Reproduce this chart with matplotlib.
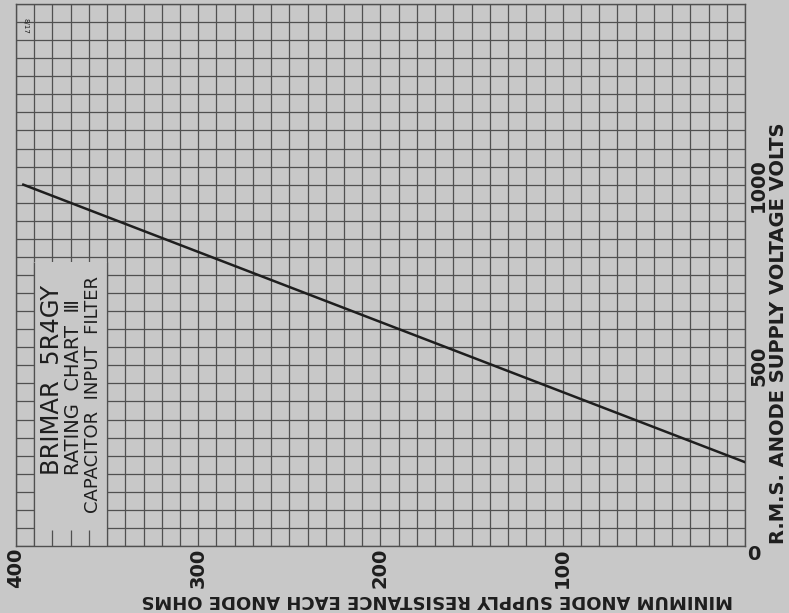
import numpy as np
import matplotlib.pyplot as plt
from matplotlib.patches import Rectangle
from matplotlib.ticker import MultipleLocator

# ------------------------------------------------------------
# data (rating chart III, 5R4GY)
# ------------------------------------------------------------
resistance = [0, 396]          # ohms
voltage = [232, 1000]          # r.m.s. volts

x_ticks = [400, 300, 200, 100, 0]
y_ticks = [500, 1000]

BG = "#c8c8c8"
GRID = "#505050"
INK = "#1e1e1e"

fig = plt.figure(figsize=(7.89, 6.13), dpi=100, facecolor=BG)
ax = fig.add_axes([0.0203, 0.1093, 0.9239, 0.8842], facecolor=BG)

ax.set_xlim(400, 0)
ax.set_ylim(0, 1500)

ax.xaxis.set_major_locator(MultipleLocator(100))
ax.xaxis.set_minor_locator(MultipleLocator(10))
ax.yaxis.set_major_locator(MultipleLocator(500))
ax.yaxis.set_minor_locator(MultipleLocator(50))
ax.grid(which="both", color=GRID, lw=0.9)
ax.set_axisbelow(True)
ax.tick_params(which="both", length=0)

ax.set_xticks(x_ticks)
ax.set_xticklabels([str(v) for v in x_ticks[:-1]] + [""], rotation=90,
                   fontsize=14, fontweight="bold", color=INK, va="top")
ax.yaxis.tick_right()
ax.set_yticks(y_ticks)
ax.set_yticklabels([str(v) for v in y_ticks], rotation=90, fontsize=14,
                   fontweight="bold", color=INK, va="center")
ax.tick_params(axis="x", pad=1)
ax.tick_params(axis="y", pad=3)

for s in ax.spines.values():
    s.set_color(GRID)
    s.set_linewidth(1.0)

# the corner zero
fig.text(754 / 789, 1 - 555 / 613, "0", fontsize=14, fontweight="bold", color=INK,
         ha="center", va="center")

# axis titles
fig.text(437 / 789, 1 - 600 / 613, "MINIMUM ANODE SUPPLY RESISTANCE EACH ANODE OHMS",
         rotation=180, fontsize=13, fontweight="bold", color=INK, ha="center", va="center")
fig.text(778 / 789, 1 - 333 / 613, "R.M.S. ANODE SUPPLY VOLTAGE VOLTS",
         rotation=90, fontsize=14, fontweight="bold", color=INK, ha="center", va="center")

# title panel
ax.add_patch(Rectangle((350, 0), 40, 785, facecolor=BG, edgecolor="none", zorder=1))
ax.vlines([380, 370, 360], 0, 45, color=GRID, lw=0.9, zorder=1.2)
ax.vlines([390, 350], 0, 785, color=GRID, lw=0.9, zorder=1.2)

ax.text(380.5, 459, "BRIMAR  5R4GY", rotation=90, fontsize=17.5, color=INK,
        ha="center", va="center", zorder=3)
ax.text(368.5, 440, "RATING  CHART  \u2162", rotation=90, fontsize=14, color=INK,
        ha="center", va="center", zorder=3)
ax.text(358, 418, "CAPACITOR  INPUT  FILTER", rotation=90, fontsize=13, color=INK,
        ha="center", va="center", zorder=3)
ax.text(395, 1440, "8/17", rotation=270, fontsize=5, color=INK,
        ha="center", va="center", zorder=3)

# rating line
ax.plot(resistance, voltage, color=INK, lw=1.8, zorder=4)

fig.savefig("out.png", dpi=100, facecolor=BG)
